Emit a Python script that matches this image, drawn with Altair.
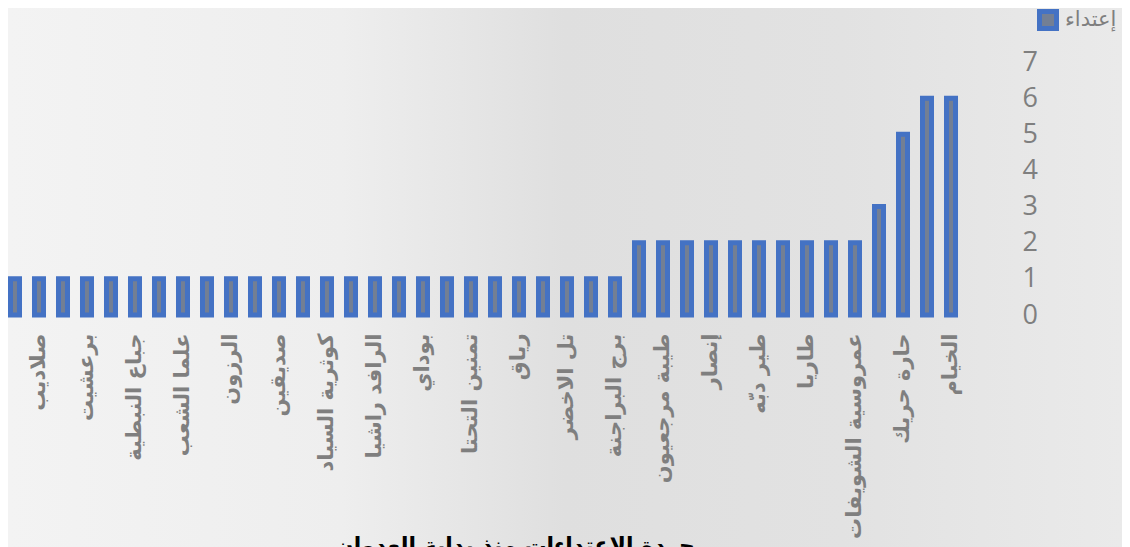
import altair as alt
import pandas as pd

# ---- data (left to right as drawn) ----
labels = [
    None, "صلاديب", None, "برعشيت", None, "جباع النبطية", None, "علما الشعب",
    None, "الرزون", None, "صديقين", None, "كوثرية السياد", None, "الرافد راشيا",
    None, "بوداي", None, "تمنين التحتا", None, "رياق", None, "تل الاخضر",
    None, "برج البراجنة", None, "طيبة مرجعيون", None, "إنصار", None, "طير دبّه",
    None, "طاريا", None, "عمروسية الشويفات", None, "حارة حريك", None, "الخيام",
]
values = [
    1, 1, 1, 1, 1, 1, 1, 1, 1, 1,
    1, 1, 1, 1, 1, 1, 1, 1, 1, 1,
    1, 1, 1, 1, 1, 1, 2, 2, 2, 2,
    2, 2, 2, 2, 2, 2, 3, 5, 6, 6,
]
series_name = "إعتداء"
y_ticks = [0, 1, 2, 3, 4, 5, 6, 7]
title_text = "جردة الاعتداءات منذ بداية العدوان"

keys = [lab if lab else f"· {i}" for i, lab in enumerate(labels)]
shown = [lab for lab in labels if lab]
df = pd.DataFrame({"key": keys, "value": values, "series": series_name})

BLUE = "#4472C4"
GRAY = "#737f94"
TXT = "#7f7f7f"

W = 950
H = 253

bg = alt.Chart(pd.DataFrame({"a": [0]})).mark_rect(
    color=alt.LinearGradient(
        gradient="linear", x1=0, x2=1, y1=0, y2=0,
        stops=[
            alt.GradientStop(color="#f3f3f3", offset=0),
            alt.GradientStop(color="#eeeeee", offset=0.3),
            alt.GradientStop(color="#dfdfdf", offset=0.5),
            alt.GradientStop(color="#e2e2e2", offset=0.75),
            alt.GradientStop(color="#eaeaea", offset=1),
        ],
    )
).encode(
    x=alt.value(0), x2=alt.value(1114),
    y=alt.value(-54), y2=alt.value(490),
)

bars = alt.Chart(df).mark_bar(stroke=BLUE, strokeWidth=5).encode(
    x=alt.X(
        "key:N", sort=keys, title=None,
        scale=alt.Scale(paddingInner=0.625, paddingOuter=0.104),
        axis=alt.Axis(
            values=shown, labelAngle=270, labelAlign="right", labelBaseline="middle",
            labelFont="DejaVu Sans", labelFontWeight="bold", labelFontSize=21,
            labelColor=TXT, labelPadding=18, ticks=False, domain=False,
            labelLimit=0, labelOverlap=False, grid=False, zindex=2,
        ),
    ),
    y=alt.Y(
        "value:Q", title=None,
        scale=alt.Scale(domain=[0, 7], nice=False),
        axis=alt.Axis(
            orient="right", values=y_ticks, labelFont="Open Sans", labelFontSize=27,
            labelColor=TXT, labelPadding=64, ticks=False, domain=False, grid=False,
            labelAlign="left", zindex=2,
        ),
    ),
    fill=alt.Fill(
        "series:N", scale=alt.Scale(range=[GRAY]),
        legend=alt.Legend(
            title=None, orient="none", legendX=1029, legendY=-53, padding=0,
            symbolType="square", symbolSize=289, symbolStrokeColor=BLUE,
            symbolStrokeWidth=5, symbolFillColor=GRAY, labelFont="DejaVu Sans",
            labelFontSize=21, labelColor=TXT, labelOffset=6, zindex=2,
        ),
    ),
)

title = alt.Chart(pd.DataFrame({"t": [title_text]})).mark_text(
    font="DejaVu Sans", fontWeight="bold", fontSize=22, color="#000000",
    align="center", baseline="alphabetic",
).encode(text="t:N", x=alt.value(507), y=alt.value(491))

chart = alt.layer(bg, bars, title).properties(
    width=W, height=H,
    padding={"left": 0, "top": 54, "right": 164, "bottom": 232},
    autosize=alt.AutoSizeParams(type="none"),
    background="#e8e8e8",
).configure_view(stroke=None)

chart.save("out.html", embed_options={"renderer": "svg", "actions": False})
